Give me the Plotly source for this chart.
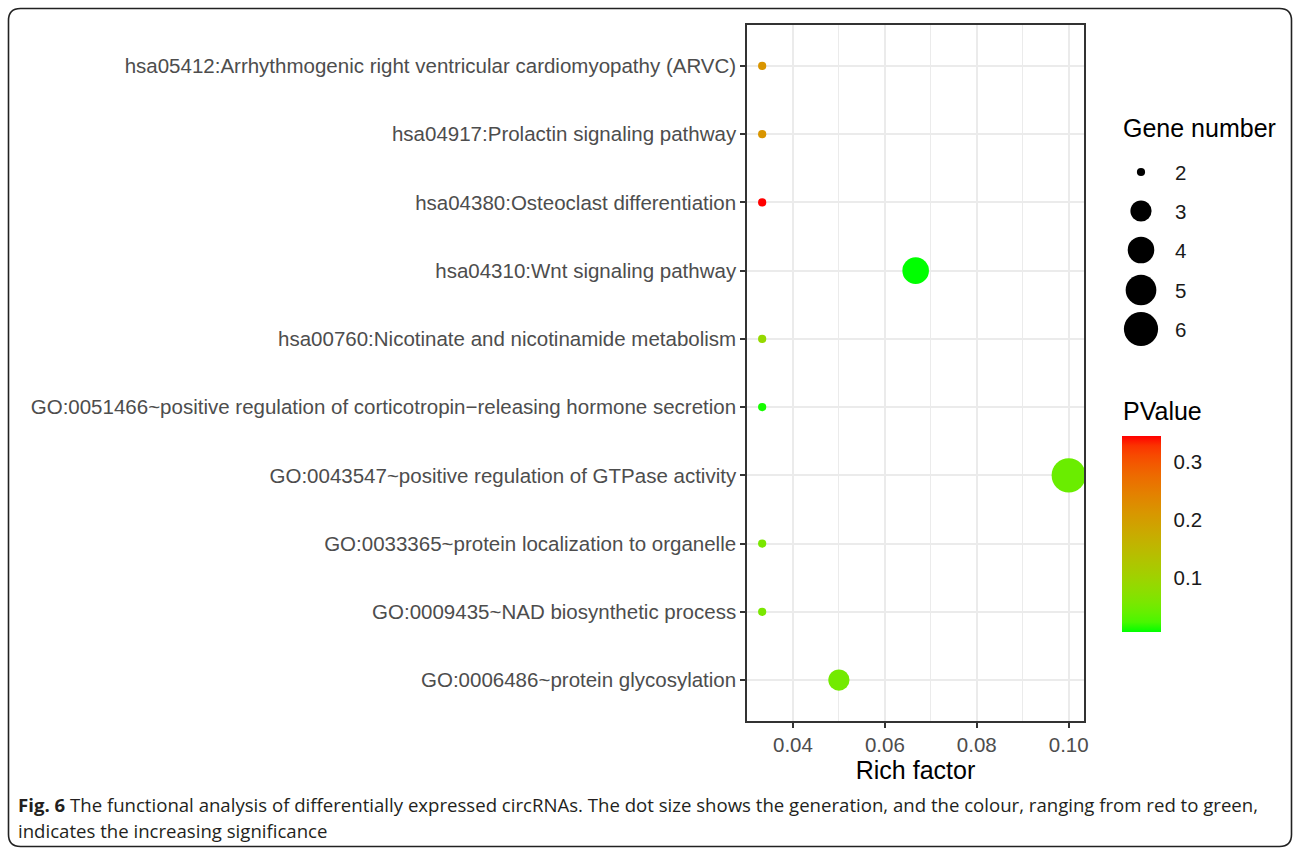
import numpy as np
import plotly.graph_objects as go

# ---------------- data ----------------
terms = [
    "hsa05412:Arrhythmogenic right ventricular cardiomyopathy (ARVC)",
    "hsa04917:Prolactin signaling pathway",
    "hsa04380:Osteoclast differentiation",
    "hsa04310:Wnt signaling pathway",
    "hsa00760:Nicotinate and nicotinamide metabolism",
    "GO:0051466~positive regulation of corticotropin\u2212releasing hormone secretion",
    "GO:0043547~positive regulation of GTPase activity",
    "GO:0033365~protein localization to organelle",
    "GO:0009435~NAD biosynthetic process",
    "GO:0006486~protein glycosylation",
]
rich_factor = [0.0333, 0.0333, 0.0333, 0.0667, 0.0333, 0.0333, 0.1000, 0.0333, 0.0333, 0.0500]
gene_number = [2, 2, 2, 4, 2, 2, 6, 2, 2, 3]
pvalue = [0.215, 0.215, 0.345, 0.007, 0.088, 0.012, 0.045, 0.058, 0.058, 0.052]

size_breaks = [2, 3, 4, 5, 6]
x_ticks = [0.04, 0.06, 0.08, 0.10]
x_minor = [0.05, 0.07, 0.09]
cbar_ticks = [0.1, 0.2, 0.3]

# ---------------- helpers ----------------
W, H = 1293, 848
ML, MR, MT, MB = 747, 0, 25, 127
PW = W - ML - MR
PH = H - MT - MB


def px_x(px):
    return (px - ML) / PW


def px_y(py):
    return (H - MB - py) / PH


def srgb_to_lab(rgb):
    c = np.array(rgb, dtype=float) / 255.0
    c = np.where(c <= 0.04045, c / 12.92, ((c + 0.055) / 1.055) ** 2.4)
    M = np.array([[0.4124, 0.3576, 0.1805], [0.2126, 0.7152, 0.0722], [0.0193, 0.1192, 0.9505]])
    xyz = M @ c
    wp = np.array([0.95047, 1.0, 1.08883])
    t = xyz / wp
    f = np.where(t > (6 / 29) ** 3, np.cbrt(t), t / (3 * (6 / 29) ** 2) + 4 / 29)
    return np.array([116 * f[1] - 16, 500 * (f[0] - f[1]), 200 * (f[1] - f[2])])


def lab_to_srgb(lab):
    L, a, b = lab
    fy = (L + 16) / 116
    fx = fy + a / 500
    fz = fy - b / 200
    f = np.array([fx, fy, fz])
    t = np.where(f > 6 / 29, f ** 3, 3 * (6 / 29) ** 2 * (f - 4 / 29))
    xyz = t * np.array([0.95047, 1.0, 1.08883])
    Minv = np.array([[3.2406, -1.5372, -0.4986], [-0.9689, 1.8758, 0.0415], [0.0557, -0.2040, 1.0570]])
    c = Minv @ xyz
    c = np.clip(c, 0, 1)
    c = np.where(c <= 0.0031308, 12.92 * c, 1.055 * c ** (1 / 2.4) - 0.055)
    r, g, bb = (np.clip(c, 0, 1) * 255).round().astype(int)
    return f"rgb({r},{g},{bb})"


lab_lo = srgb_to_lab((0, 255, 0))
lab_hi = srgb_to_lab((255, 0, 0))
colorscale = [[t, lab_to_srgb(lab_lo + (lab_hi - lab_lo) * t)] for t in np.linspace(0, 1, 21)]

nmin, nmax = min(gene_number), max(gene_number)
pmin, pmax = min(pvalue), max(pvalue)


def dot_diam(n):
    s = 1 + 5 * np.sqrt((n - nmin) / (nmax - nmin))
    return 5.2 * s + 3


TICK_FONT = dict(family="Liberation Sans, Arial, sans-serif", size=20.5, color="#4D4D4D")
LEG_FONT = dict(family="Liberation Sans, Arial, sans-serif", size=20.5, color="#1A1A1A")
TITLE_FONT = dict(family="Liberation Sans, Arial, sans-serif", size=25, color="#000000")

# colorbar geometry (pixels)
CB_X0, CB_X1, CB_Y0, CB_Y1 = 1122, 1161, 436, 632

fig = go.Figure()

fig.add_trace(go.Scatter(
    x=rich_factor, y=terms, mode="markers",
    marker=dict(
        size=[dot_diam(n) for n in gene_number],
        color=pvalue, colorscale=colorscale,
        cmin=pmin, cmax=pmax,
        line=dict(width=0), opacity=1,
        showscale=True,
        colorbar=dict(
            x=px_x(CB_X0), xanchor="left", xpad=0,
            y=px_y((CB_Y0 + CB_Y1) / 2), yanchor="middle", ypad=0,
            thickness=CB_X1 - CB_X0, len=CB_Y1 - CB_Y0, lenmode="pixels",
            tickvals=cbar_ticks, ticktext=[f"{v:.1f}" for v in cbar_ticks],
            ticks="outside", ticklen=9, tickwidth=1, tickcolor="rgba(0,0,0,0)",
            outlinewidth=0, tickfont=LEG_FONT, title=dict(text=""),
        ),
    ),
    showlegend=False, hoverinfo="skip",
))

# size legend keys
leg_y = [172, 211, 250, 290, 329]
fig.add_trace(go.Scatter(
    x=[1141] * len(size_breaks), y=leg_y, mode="markers",
    marker=dict(size=[dot_diam(n) for n in size_breaks], color="black", opacity=1, line=dict(width=0)),
    xaxis="x2", yaxis="y2", showlegend=False, hoverinfo="skip",
))

annotations = []
for n, yy in zip(size_breaks, leg_y):
    annotations.append(dict(x=1173, y=yy, xref="x2", yref="y2", text=str(n), showarrow=False,
                            xanchor="left", yanchor="middle", font=LEG_FONT))
annotations.append(dict(x=1121, y=128, xref="x2", yref="y2", text="Gene number", showarrow=False,
                        xanchor="left", yanchor="middle", font=TITLE_FONT))
annotations.append(dict(x=1121, y=411, xref="x2", yref="y2", text="PValue", showarrow=False,
                        xanchor="left", yanchor="middle", font=TITLE_FONT))

CAP_FONT = dict(family="Open Sans, sans-serif", size=18.6, color="#231F20")
annotations.append(dict(
    x=px_x(16), y=px_y(805), xref="paper", yref="paper", xanchor="left", yanchor="middle",
    text="<b>Fig. 6</b> The functional analysis of differentially expressed circRNAs. The dot size shows the generation, and the colour, ranging from red to green,",
    showarrow=False, font=CAP_FONT, align="left"))
annotations.append(dict(
    x=px_x(16), y=px_y(830), xref="paper", yref="paper", xanchor="left", yanchor="middle",
    text="indicates the increasing significance",
    showarrow=False, font=CAP_FONT, align="left"))

# rounded outer frame
x0, x1, y0, y1, r = 8.5, 1291.5, 8.5, 846.5, 12
path = (f"M {px_x(x0 + r)} {px_y(y0)} L {px_x(x1 - r)} {px_y(y0)} "
        f"Q {px_x(x1)} {px_y(y0)} {px_x(x1)} {px_y(y0 + r)} "
        f"L {px_x(x1)} {px_y(y1 - r)} Q {px_x(x1)} {px_y(y1)} {px_x(x1 - r)} {px_y(y1)} "
        f"L {px_x(x0 + r)} {px_y(y1)} Q {px_x(x0)} {px_y(y1)} {px_x(x0)} {px_y(y1 - r)} "
        f"L {px_x(x0)} {px_y(y0 + r)} Q {px_x(x0)} {px_y(y0)} {px_x(x0 + r)} {px_y(y0)} Z")
shapes = [dict(type="path", path=path, xref="paper", yref="paper",
               line=dict(color="#222222", width=1.6), layer="above")]

# white tick marks on both sides of the colour bar
for v in cbar_ticks:
    yy = CB_Y1 - (v - pmin) / (pmax - pmin) * (CB_Y1 - CB_Y0)
    for xa, xb in [(CB_X0, CB_X0 + 8), (CB_X1 - 8, CB_X1)]:
        shapes.append(dict(type="line", xref="paper", yref="paper",
                           x0=px_x(xa), x1=px_x(xb), y0=px_y(yy), y1=px_y(yy),
                           line=dict(color="white", width=1.5), layer="above"))

fig.update_layout(
    width=W, height=H, autosize=False,
    margin=dict(l=ML, r=MR, t=MT, b=MB, pad=0, autoexpand=False),
    paper_bgcolor="white", plot_bgcolor="white",
    xaxis=dict(
        domain=[0, px_x(1084)], range=[0.03, 0.10333], automargin=False,
        tickvals=x_ticks, ticktext=[f"{v:.2f}" for v in x_ticks],
        showgrid=True, gridcolor="#EBEBEB", gridwidth=1.8,
        minor=dict(tickvals=x_minor, showgrid=True, gridcolor="#EBEBEB", gridwidth=1.2, ticks=""),
        ticks="outside", ticklen=5, tickwidth=1.8, tickcolor="#333333",
        showline=True, linecolor="#333333", linewidth=1.5, mirror=True,
        zeroline=False, tickfont=TICK_FONT,
        title=dict(text="Rich factor", font=TITLE_FONT, standoff=4),
    ),
    yaxis=dict(
        type="category", categoryorder="array", categoryarray=terms[::-1],
        range=[-0.6, len(terms) - 0.4], automargin=False,
        showgrid=True, gridcolor="#EBEBEB", gridwidth=1.8,
        ticks="outside", ticklen=5, tickwidth=1.8, tickcolor="#333333",
        showline=True, linecolor="#333333", linewidth=1.5, mirror=True,
        zeroline=False, tickfont=TICK_FONT,
    ),
    xaxis2=dict(domain=[px_x(1100), 1], range=[1100, 1293], visible=False, anchor="y2", automargin=False),
    yaxis2=dict(domain=[0, 1], range=[721, 25], visible=False, anchor="x2", automargin=False),
    annotations=annotations, shapes=shapes,
)

fig.write_html(
    "out.html",
    config={"displayModeBar": False, "responsive": False},
    post_script="document.body.style.margin='0';document.body.style.overflow='hidden';",
)
